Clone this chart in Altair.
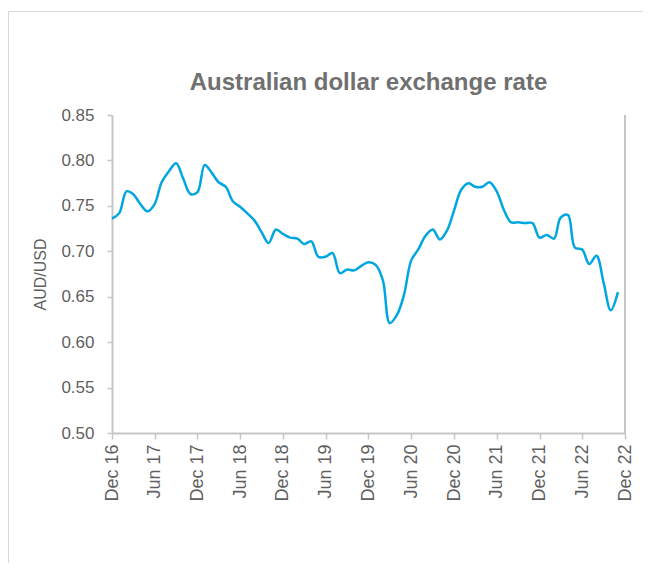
import altair as alt
import pandas as pd

# Monthly AUD/USD, Dec 2016 .. Nov 2022
start_year, start_month = 2016, 12
values = [
    0.736, 0.742, 0.766, 0.763, 0.752, 0.744, 0.752, 0.776, 0.788, 0.797,
    0.780, 0.763, 0.765, 0.795, 0.786, 0.776, 0.771, 0.755, 0.749, 0.742,
    0.734, 0.721, 0.709, 0.724, 0.719, 0.715, 0.714, 0.708, 0.711, 0.694,
    0.694, 0.698, 0.676, 0.680, 0.679, 0.684, 0.688, 0.685, 0.668, 0.621,
    0.630, 0.652, 0.690, 0.702, 0.717, 0.724, 0.713, 0.723, 0.745, 0.768,
    0.775, 0.771, 0.771, 0.776, 0.766, 0.746, 0.732, 0.732, 0.731, 0.731,
    0.715, 0.718, 0.714, 0.737, 0.740, 0.704, 0.702, 0.686, 0.695, 0.665,
    0.635, 0.655,
]
dates = []
y, m = start_year, start_month
for _ in values:
    dates.append(f"{y:04d}-{m:02d}-01")
    m += 1
    if m > 12:
        m = 1
        y += 1

y_ticks = [0.50, 0.55, 0.60, 0.65, 0.70, 0.75, 0.80, 0.85]
x_tick_dates = [(2016, 12), (2017, 6), (2017, 12), (2018, 6), (2018, 12), (2019, 6),
                (2019, 12), (2020, 6), (2020, 12), (2021, 6), (2021, 12), (2022, 6),
                (2022, 12)]

df = pd.DataFrame({"date": dates, "rate": values})

FONT = "Liberation Sans"
AXIS_COL = "#C6C6C6"
TEXT_COL = "#5F5F5F"

x_vals = [alt.DateTime(year=yy, month=mm, date=1, utc=True) for yy, mm in x_tick_dates]

x_enc = alt.X(
    "date:T",
    scale=alt.Scale(type="utc",
                    domain=[alt.DateTime(year=2016, month=12, date=1, utc=True),
                            alt.DateTime(year=2022, month=12, date=1, utc=True)]),
    axis=alt.Axis(values=x_vals, labelExpr="utcFormat(datum.value, '%b %y')",
                  labelAngle=-90,
                  title=None, grid=False, tickSize=6, labelPadding=5,
                  labelFontSize=18, labelColor=TEXT_COL, labelFont=FONT,
                  domainColor=AXIS_COL, tickColor=AXIS_COL, domainWidth=2, tickWidth=1.5,
                  labelFlush=False, labelOverlap=False),
)
y_enc = alt.Y(
    "rate:Q",
    scale=alt.Scale(domain=[0.5, 0.85], zero=False, nice=False),
    axis=alt.Axis(values=y_ticks, format=".2f", title="AUD/USD", grid=False,
                  tickSize=5, labelPadding=13, labelFontSize=17, labelColor=TEXT_COL,
                  labelFont=FONT, titleFont=FONT, titleFontSize=16, titleFontWeight="normal",
                  titleColor=TEXT_COL, titleX=-72, titleBaseline="middle",
                  domainColor=AXIS_COL, tickColor=AXIS_COL, domainWidth=2, tickWidth=1.5),
)

line = alt.Chart(df).mark_line(color="#00A6DF", strokeWidth=2.5,
                               interpolate="catmull-rom").encode(x=x_enc, y=y_enc)

edge = pd.DataFrame({"date": ["2022-12-01"], "lo": [0.5], "hi": [0.85]})
right_line = alt.Chart(edge).mark_rule(color=AXIS_COL, strokeWidth=2).encode(
    x=alt.X("date:T"), y=alt.Y("lo:Q"), y2="hi:Q")

one = pd.DataFrame({"k": [0]})
frame_left = alt.Chart(one).mark_rule(color="#D9D9D9", strokeWidth=1).encode(
    x=alt.value(-103.5), y=alt.value(-104), y2=alt.value(460))
frame_top = alt.Chart(one).mark_rule(color="#D9D9D9", strokeWidth=1).encode(
    x=alt.value(-104), x2=alt.value(540), y=alt.value(-103.5))

chart = alt.layer(frame_left, frame_top, line, right_line).properties(
    width=513, height=318,
    title=alt.TitleParams("Australian dollar exchange rate", font=FONT, fontSize=24,
                          fontWeight="bold", color="#707070", anchor="middle",
                          frame="group", offset=0, dy=84),
    autosize=alt.AutoSizeParams(type="none"),
    padding={"left": 104, "top": 107, "right": 18, "bottom": 130},
).configure_view(stroke=None)

chart.save("out.html", embed_options={"renderer": "svg", "actions": False})
